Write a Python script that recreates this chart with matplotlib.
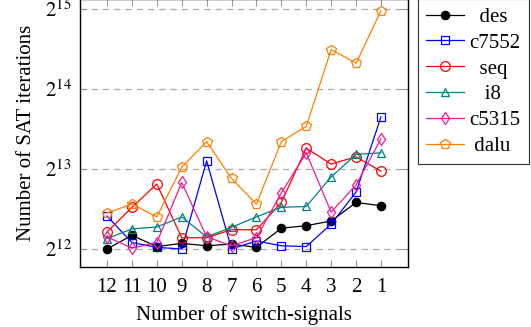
import numpy as np
import matplotlib
matplotlib.use('Agg')
import matplotlib.pyplot as plt

plt.rcParams['font.family'] = ['Liberation Serif', 'DejaVu Serif']
plt.rcParams['mathtext.fontset'] = 'stix'
plt.rcParams['font.size'] = 15

# number of switch-signals (x axis, shown from 12 down to 1)
signals = [12, 11, 10, 9, 8, 7, 6, 5, 4, 3, 2, 1]

# SAT iterations per circuit
des = [4096, 4608, 4182, 4300, 4211, 4272, 4153, 4903, 5009, 5218, 6124, 5955]
c7552 = [5444, 4330, 4153, 4096, 8780, 4096, 4390, 4211, 4182, 5080, 6700, 12850]
seq = [4740, 5870, 7180, 4514, 4514, 4838, 4838, 6124, 9800, 8540, 9090, 8024]
i8 = [4481, 4871, 4956, 5406, 4547, 4940, 5406, 5874, 5915, 7643, 9282, 9410]
c5315 = [4547, 4125, 4330, 7283, 4547, 4211, 4514, 6656, 9410, 5632, 7131, 10630]
dalu = [5595, 6037, 5406, 8306, 10370, 7537, 6037, 10370, 11830, 23000, 20420, 32200]

series = [
    ('des', des, 'black', 'o', True, 6),
    ('c7552', c7552, 'blue', 's', False, 6),
    ('seq', seq, 'red', 'o', False, 7),
    ('i8', i8, '#008080', '^', False, 6),
    ('c5315', c5315, '#f01c96', 'd', False, 6),
    ('dalu', dalu, '#ff8000', 'p', False, 7),
]

fig = plt.figure(figsize=(5.31, 3.27), dpi=100)
ax = fig.add_axes([80/531, 60/327, 328/531, 268/327])

x = np.arange(len(signals))
for name, vals, col, mk, filled, ms in series:
    ax.plot(x, vals, color=col, marker=mk, markersize=ms, linewidth=0.9,
            markerfacecolor=col if filled else 'none', markeredgewidth=0.9,
            label=name)

ax.set_yscale('log', base=2)
ax.set_ylim(2 ** 11.775, 2 ** 15.12)
ax.set_yticks([2 ** 12, 2 ** 13, 2 ** 14, 2 ** 15])
ax.set_yticklabels([r'$2^{12}$', r'$2^{13}$', r'$2^{14}$', r'$2^{15}$'])
ax.minorticks_off()
ax.set_xticks(x)
ax.set_xticklabels([str(s) for s in signals])
ax.set_xlim(-1.085, 12.085)

ax.grid(axis='y', color='#aaaaaa', linestyle=(0, (5, 4)), linewidth=0.9)
ax.tick_params(direction='in', length=5, color='#999999', top=True, right=True,
               width=0.8, pad=6)
ax.tick_params(axis='x', pad=8)
for sp in ax.spines.values():
    sp.set_linewidth(1.0)

ax.set_xlabel('Number of switch-signals', labelpad=6)
ax.set_ylabel('Number of SAT iterations', labelpad=6)

leg = fig.legend(loc='upper left', bbox_to_anchor=(418/531, 1 + 1/327),
                 borderaxespad=0, frameon=True, fancybox=False,
                 edgecolor='black', handlelength=1.8, handletextpad=0.25,
                 labelspacing=0.3, borderpad=0.4, fontsize=15)
leg.get_frame().set_linewidth(0.8)

# centre the legend labels like pgfplots does, by padding with spaces
fig.canvas.draw()
r = fig.canvas.get_renderer()
texts = leg.get_texts()
widths = [t.get_window_extent(r).width for t in texts]
t0 = texts[0]
orig = t0.get_text()
t0.set_text('a a')
w2 = t0.get_window_extent(r).width
t0.set_text('aa')
space = w2 - t0.get_window_extent(r).width
t0.set_text(orig)
wmax = max(widths)
for t, w in zip(texts, widths):
    n = int(round((wmax - w) / 2 / space))
    t.set_text(' ' * n + t.get_text())

fig.savefig('out.png', dpi=100)
